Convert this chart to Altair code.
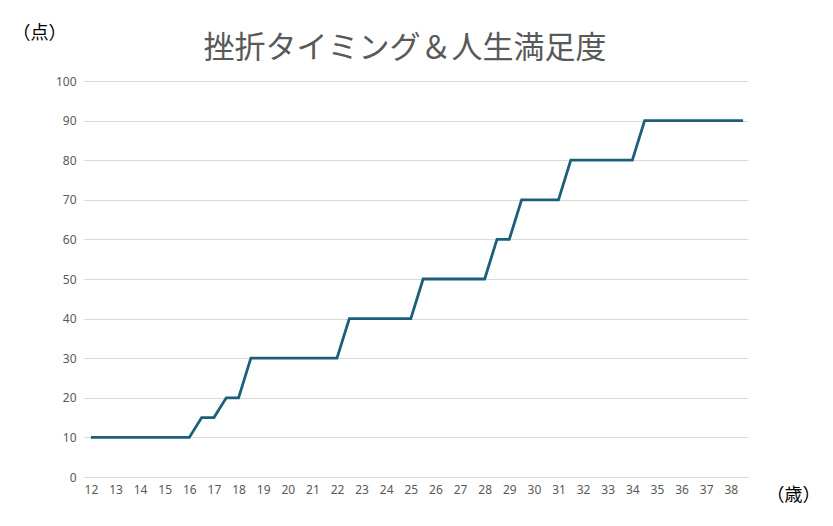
import altair as alt
import pandas as pd

# Vertices of the step line (age in years, life-satisfaction score)
ages = [12, 16, 16.5, 17, 17.5, 18, 18.5, 22, 22.5, 25, 25.5, 28, 28.5, 29, 29.5, 31, 31.5, 34, 34.5, 38.5]
scores = [10, 10, 15, 15, 20, 20, 30, 30, 40, 40, 50, 50, 60, 60, 70, 70, 80, 80, 90, 90]

x_ticks = [12, 13, 14, 15, 16, 17, 18, 19, 20, 21, 22, 23, 24, 25, 26, 27, 28, 29, 30,
           31, 32, 33, 34, 35, 36, 37, 38]
y_ticks = [0, 10, 20, 30, 40, 50, 60, 70, 80, 90, 100]

df = pd.DataFrame({"age": ages, "score": scores})

label_font = "Noto Sans"
jp_font = "Noto Sans CJK JP"

chart = alt.Chart(df).mark_line(color="#1c5f7b", strokeWidth=2.8, strokeJoin="miter").encode(
    x=alt.X("age:Q",
            scale=alt.Scale(domain=[11.72, 38.7], nice=False, zero=False),
            axis=alt.Axis(values=x_ticks, grid=False, ticks=False, domain=True,
                          domainColor="#d9d9d9", labelPadding=7, labelFont=label_font,
                          labelFontSize=12, labelColor="#595959", labelFlush=False,
                          title="（歳）", titleFont=jp_font, titleFontSize=18,
                          titleFontWeight="normal", titleColor="#000000",
                          titleX=709, titleY=18, titleAlign="center",
                          titleBaseline="middle", titleAngle=0)),
    y=alt.Y("score:Q",
            scale=alt.Scale(domain=[0, 100], nice=False),
            axis=alt.Axis(values=y_ticks, grid=True, gridColor="#d9d9d9", ticks=False,
                          domain=False, labelPadding=8, labelFont=label_font,
                          labelFontSize=12, labelColor="#595959",
                          title="（点）", titleFont=jp_font, titleFontSize=18,
                          titleFontWeight="normal", titleColor="#000000",
                          titleX=-45, titleY=-48, titleAlign="center",
                          titleBaseline="middle", titleAngle=0)),
).properties(
    width=664,
    height=396,
    title=alt.TitleParams("挫折タイミング＆人生満足度", font=jp_font, fontSize=31,
                          fontWeight="normal", color="#595959", anchor="middle",
                          dx=-11, offset=-41),
    autosize=alt.AutoSizeParams(type="none"),
    padding={"left": 84, "top": 81, "right": 85, "bottom": 49},
).configure_view(stroke=None)

chart.save("out.html", embed_options={"renderer": "svg", "actions": False})
